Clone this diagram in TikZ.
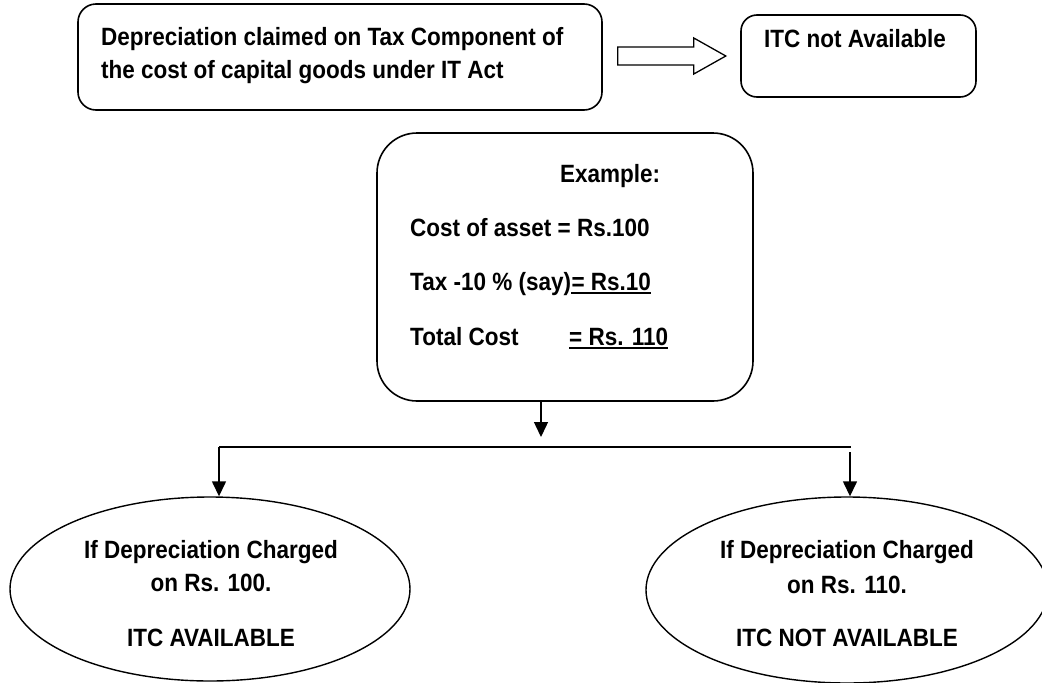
\documentclass[tikz,border=0pt]{standalone}
\usepackage{fontspec}
\setmainfont{Liberation Sans}[FakeStretch=0.9]
\usetikzlibrary{arrows.meta,shapes.geometric}
\begin{document}
\begin{tikzpicture}[x=1pt,y=-1pt,
  every node/.style={font=\fontsize{25}{33}\selectfont\bfseries},
  lbl/.style={inner sep=0pt, anchor=base west},
  clbl/.style={inner sep=0pt, anchor=base},
  rbox/.style={draw, line width=1.6pt, rounded corners=#1, inner sep=0pt},
  oval/.style={draw, ellipse, line width=1.4pt, inner sep=0pt},
  arr/.style={line width=1.4pt, -{Triangle[length=15pt,width=14pt]}},
  ln/.style={line width=1.4pt},
  uline/.style={line width=2pt}]
\useasboundingbox (0,0) rectangle (1042,683);
\clip (0,0) rectangle (1042,683);
% boxes
\node[rbox=18pt, minimum width=524pt, minimum height=106pt] (tl) at (340,57) {};
\node[rbox=16pt, minimum width=235pt, minimum height=82pt] (itc) at (858.5,56) {};
\node[rbox=40pt, minimum width=376pt, minimum height=268pt] (mid) at (565,267) {};
\node[oval, minimum width=400pt, minimum height=184pt] (le) at (210,589) {};
\node[oval, minimum width=402pt, minimum height=186pt] (re) at (847,590) {};
% texts
\node[lbl] (t1) at (101,45) {Depreciation claimed on Tax Component of};
\node[lbl] (t2) at (101,78) {the cost of capital goods under IT Act};
\node[lbl] (t3) at (764,47) {ITC not Available};
\node[lbl] (m1) at (560,182) {Example:};
\node[lbl] (m2) at (410,236) {Cost of asset = Rs.100};
\node[lbl] (m3) at (410,290) {Tax -10 \% (say)};
\node[lbl] (m3b) at (m3.base east) {= Rs.10};
\node[lbl] (m4) at (410,345) {Total Cost};
\node[lbl] (m4b) at (569,345) {= Rs. 110};
\draw[uline] ([yshift=-3pt]m3b.base west) -- ([yshift=-3pt]m3b.base east);
\draw[uline] ([yshift=-3pt]m4b.base west) -- ([yshift=-3pt]m4b.base east);
\node[clbl] (l1) at (211,558) {If Depreciation Charged};
\node[clbl] (l2) at (211,591) {on Rs. 100.};
\node[clbl] (l3) at (211,646) {ITC AVAILABLE};
\node[clbl] (r1) at (847,558) {If Depreciation Charged};
\node[clbl] (r2) at (847,593) {on Rs. 110.};
\node[clbl] (r3) at (847,646) {ITC NOT AVAILABLE};
% hollow arrow
\begin{scope}[shift={(tl.east)}]
\draw[line width=1.3pt] (15,-10) -- (91,-10) -- (91,-19) -- (123,-1) -- (91,17) -- (91,8) -- (15,8) -- cycle;
\end{scope}
% connectors
\coordinate (j) at (541,447);
\coordinate (jl) at (219,447);
\coordinate (jr) at (851,447);
\coordinate (rs) at (850,452);
\draw[arr] (mid.south -| j) -- ([yshift=10pt]j);
\draw[ln] (jl) -- (jr);
\draw[arr] (jl) -- (le.north -| jl);
\draw[arr] (rs) -- (re.north -| rs);
\end{tikzpicture}
\end{document}
